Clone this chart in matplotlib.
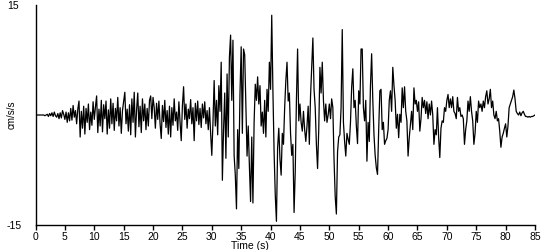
import numpy as np
import matplotlib
matplotlib.use("Agg")
import matplotlib.pyplot as plt

# Sampling step of the record (s)
DT = 0.2

# Acceleration values, one row per second (cm/s/s)
accel = [
    0, 0, 0, 0, 0,
    0, 0, 0, -0.1, 0,
    0.1, -0.2, 0.2, -0.1, 0.3,
    -0.2, 0.4, -0.1, -0.3, 0.2,
    -0.5, 0.3, -0.4, 0.6, 0.1,
    -0.6, 0.4, -1.0, 0.3, -0.8,
    0.9, -0.7, 1.3, -0.3, 0.6,
    -1.2, 0.8, 1.9, -3.0, 0.5,
    -1.8, 1.2, -2.6, 0.9, -1.0,
    1.5, -2.0, 0.4, -1.4, 1.8,
    -0.6, 1.1, 2.6, -2.4, 0.8,  # 10 s
    -1.5, 2.0, -2.3, 1.4, -0.5,
    1.9, -2.6, 0.7, -1.8, 2.2,
    -1.2, 1.6, -2.1, 0.9, -0.8,
    2.4, -1.5, 1.0, -2.5, 0.6,
    1.8, 3.1, -1.2, 0.8, -2.2,
    1.4, -2.7, 2.2, -1.0, 3.1,
    -3.0, 0.7, 3.0, -1.6, 1.2,
    -2.4, 2.2, -0.8, 1.5, -2.0,
    0.9, -1.5, 2.0, 2.6, -0.5,
    2.4, 1.0, -1.8, 1.6, -0.6,  # 20 s
    1.9, -1.2, -3.2, 1.3, -0.9,
    2.0, -1.7, 0.6, -2.6, 1.2,
    -3.0, 1.0, -1.4, 2.2, -0.8,
    0.4, -2.1, 1.8, -1.0, -3.5,
    1.3, 3.85, -0.6, 1.5, -1.8,
    0.8, -0.5, 2.1, -1.2, 1.0,
    -3.5, 1.6, -0.8, 1.9, -1.3,
    0.9, -1.7, 1.5, -0.4, 1.8,
    -1.2, 0.6, -2.0, 1.0, -2.5,
    -5.5, -1.0, 4.7, -1.5, 2.0,  # 30 s
    -2.7, 4.0, 0.5, 7.2, -8.9,
    -2.0, 3.0, -5.9, 5.6, -3.0,
    7.9, 10.9, 2.0, 10.2, -5.5,
    -8.2, -12.8, -2.0, -7.3, 3.0,
    9.3, -2.5, 9.0, 8.2, 1.0,
    -5.6, -1.5, -7.0, -11.8, -3.0,
    -12.0, -1.0, 4.2, 2.0, 5.2,
    1.5, 4.0, -1.5, 0.4, -2.5,
    2.0, -3.0, 3.5, 0.5, 7.2,
    3.5, 13.6, 3.3, -5.0, -10.9,  # 40 s
    -14.5, -4.5, -1.8, -6.0, -8.2,
    -2.5, -4.0, 1.0, 4.7, 7.2,
    1.9, 3.0, -2.5, -5.5, -4.0,
    -13.3, -7.7, 2.0, 9.0, -0.8,
    1.5, -1.0, -2.2, 0.5, -2.0,
    -3.6, -1.5, 1.2, -4.0, 2.5,
    6.5, 10.5, 3.5, 1.0, -4.0,
    -7.3, -2.0, 6.5, 3.0, 7.2,
    2.0, -0.8, 1.5, -1.0, 0.0,
    1.5, -0.5, 2.2, 1.0, -6.0,  # 50 s
    -11.1, -13.5, -5.0, -3.0, -2.7,
    1.0, 11.65, -1.0, -3.6, -5.6,
    -2.5, -3.3, -4.0, -1.0, 3.8,
    6.3, 1.0, 2.0, -1.5, -3.9,
    3.3, 1.5, 9.0, 9.0, 1.0,
    -0.8, 2.0, -6.3, -1.0, -3.6,
    4.0, 8.35, 2.0, -2.7, -5.5,
    -7.2, -8.1, -2.0, 3.3, 3.5,
    -2.0, -1.0, -4.0, -3.5, -3.2,
    -2.0, 2.0, 3.3, 0.5, 6.5,  # 60 s
    4.0, 2.0, -1.8, 0.1, -3.1,
    0.1, -1.0, 3.7, 1.0, 3.85,
    0.5, -0.8, -5.6, -3.1, -1.3,
    0.5, -2.0, 3.7, 1.5, 2.0,
    0.5, 1.8, -2.2, -0.5, 2.4,
    1.0, 2.0, 0.2, 1.8, -0.5,
    1.5, 0.0, 1.9, 0.0, -4.0,
    -2.0, -2.7, 1.0, -3.0, -5.8,
    -1.8, -0.8, -1.0, 1.0, 0.5,
    2.0, 2.8, 1.0, 2.2, 1.0,  # 70 s
    2.5, 0.5, 0.2, -0.5, 2.4,
    0.5, 1.0, -0.2, 0.0, -0.5,
    -4.0, -2.0, -0.8, 1.9, 0.5,
    2.5, 0.5, -0.8, -4.0, -2.5,
    0.5, -1.0, 1.9, 1.0, 1.5,
    0.5, 1.9, 1.0, 2.5, 3.3,
    1.5, 2.2, 3.5, 1.0, 1.9,
    0.0, -0.5, 0.5, -0.8, -0.5,
    -2.2, -4.4, -3.0, -2.5, -1.8,
    -1.2, -3.0, -1.5, 1.0, 1.5,  # 80 s
    2.0, 2.5, 3.4, 2.2, 0.5,
    0.2, 0.0, 0.4, -0.1, 0.3,
    0.5, 0.1, -0.2, -0.2, -0.3,
    -0.2, -0.3, -0.2, -0.2, -0.1,
    0.0,
]

time = np.arange(len(accel)) * DT

x_ticks = list(range(0, 90, 5))
y_ticks = [-15, 15]

plt.rcParams["font.family"] = ["Liberation Sans", "DejaVu Sans"]
plt.rcParams["font.size"] = 7.5

fig = plt.figure(figsize=(5.5, 2.5), dpi=100)
ax = fig.add_axes([35.5 / 550, 25 / 250, 499.5 / 550, 220 / 250])

ax.plot(time, accel, color="black", linewidth=0.9)

ax.set_xlim(0, 85)
ax.set_ylim(-15, 15)

ax.spines["top"].set_visible(False)
ax.spines["right"].set_visible(False)
ax.spines["left"].set_linewidth(1)
ax.spines["bottom"].set_linewidth(1)

ax.set_xticks(x_ticks)
ax.set_xticklabels([str(t) for t in x_ticks])
ax.tick_params(axis="x", direction="out", length=3.5, width=1, pad=1.5)

# y labels sit left-aligned at the figure edge, no tick marks
ax.set_yticks(y_ticks)
ax.set_yticklabels([str(v) for v in y_ticks], ha="left")
ax.tick_params(axis="y", length=0, pad=20.5)

ax.set_xlabel("Time (s)", fontsize=7.5, va="center")
ax.xaxis.set_label_coords(0.43, -0.097)
ax.set_ylabel("cm/s/s", fontsize=7)
ax.yaxis.set_label_coords(-0.038, 0.5)

fig.savefig("out.png", dpi=100, facecolor="white")
